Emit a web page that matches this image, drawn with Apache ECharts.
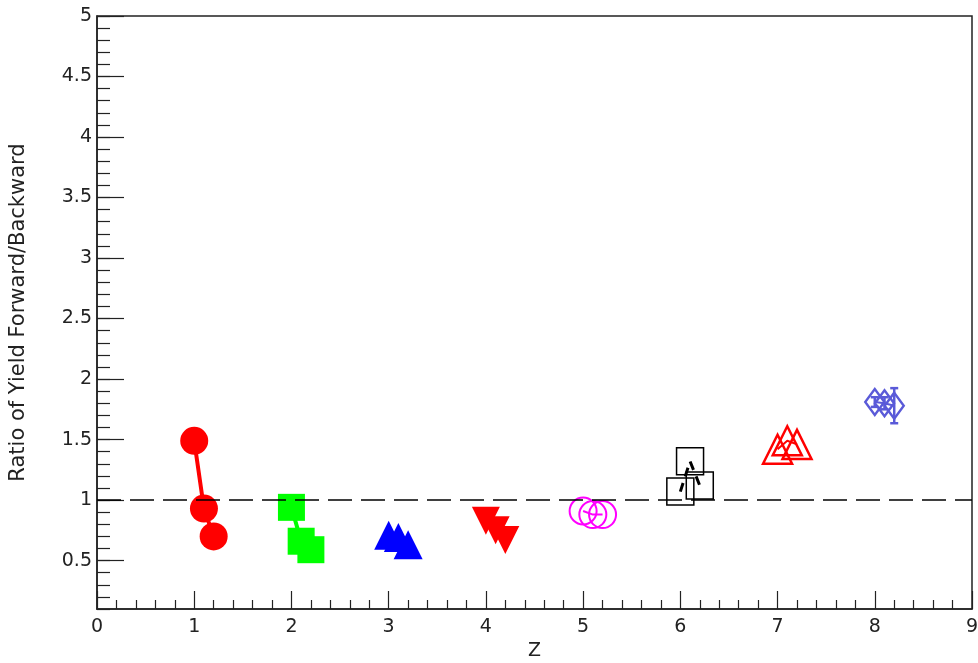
<!DOCTYPE html>
<html>
<head>
<meta charset="utf-8">
<script src="https://cdn.jsdelivr.net/npm/echarts@6/dist/echarts.min.js"></script>
<style>html,body{margin:0;padding:0;background:#fff}#c{width:978px;height:663px}</style>
</head>
<body>
<div id="c"></div>
<script>
// ---- data ----
const s1Z = [1.0, 1.1, 1.2], s1R = [1.49, 0.93, 0.70];
const s2Z = [2.0, 2.1, 2.2], s2R = [0.94, 0.66, 0.59];
const s3Z = [3.0, 3.1, 3.2], s3R = [0.71, 0.69, 0.63];
const s4Z = [4.0, 4.1, 4.2], s4R = [0.83, 0.75, 0.67];
const s5Z = [5.0, 5.1, 5.2], s5R = [0.91, 0.88, 0.88];
const s6Z = [6.0, 6.1, 6.2], s6R = [1.07, 1.32, 1.12];
const s7Z = [7.0, 7.1, 7.2], s7R = [1.42, 1.49, 1.46];
const s8Z = [8.0, 8.1, 8.2], s8R = [1.81, 1.80, 1.78];
const s8Err = [0.04, 0.05, 0.145];
const refValue = 1;
const xMin = 0, xMax = 9;
const yMin = 0.1, yMax = 5;
const yMajorTicks = [0.5, 1, 1.5, 2, 2.5, 3, 3.5, 4, 4.5, 5];

const pair = (zs, rs) => zs.map((z, i) => [z, rs[i]]);
const FONT = 'DejaVu Sans';
const GRID = {left: 97, top: 16, right: 6, bottom: 54, outerBoundsMode: 'none', containLabel: false};

function scatterLine(name, zs, rs, opts) {
  return Object.assign({
    name, type: 'line', data: pair(zs, rs), xAxisIndex: 0, yAxisIndex: 0,
    showSymbol: true, showAllSymbol: true, animation: false, z: 3
  }, opts);
}

const option = {
  animation: false,
  backgroundColor: '#fff',
  grid: [
    Object.assign({show: true, borderColor: '#222', borderWidth: 1.5, backgroundColor: 'transparent'}, GRID),
    Object.assign({show: false}, GRID)
  ],
  xAxis: [
    {
      type: 'value', gridIndex: 0, min: xMin, max: xMax, interval: 1,
      name: 'Z', nameLocation: 'middle', nameGap: 33,
      nameTextStyle: {fontFamily: FONT, fontSize: 19, color: '#222'},
      axisLine: {show: true, onZero: false, lineStyle: {color: '#222', width: 1.5}},
      axisTick: {show: true, inside: true, length: 18, lineStyle: {color: '#222', width: 1.2}},
      minorTick: {show: true, splitNumber: 5, length: 9, lineStyle: {color: '#222', width: 1.2}},
      axisLabel: {fontFamily: FONT, fontSize: 19, color: '#222', margin: 9},
      splitLine: {show: false}
    },
    {type: 'value', gridIndex: 1, min: xMin, max: xMax, show: false}
  ],
  yAxis: [
    {
      type: 'value', gridIndex: 0, min: yMin, max: yMax, interval: 0.1,
      name: 'Ratio of Yield Forward/Backward', nameLocation: 'middle', nameGap: 68,
      nameTextStyle: {fontFamily: FONT, fontSize: 21, color: '#222'},
      axisLine: {show: true, onZero: false, lineStyle: {color: '#222', width: 1.5}},
      axisTick: {show: true, inside: true, length: 13, lineStyle: {color: '#222', width: 1.2}},
      axisLabel: {show: false},
      splitLine: {show: false}
    },
    {
      type: 'value', gridIndex: 1, min: yMin, max: yMax,
      axisLine: {show: false},
      axisTick: {show: true, inside: true, length: 27, customValues: yMajorTicks, lineStyle: {color: '#222', width: 1.2}},
      axisLabel: {show: true, customValues: yMajorTicks, fontFamily: FONT, fontSize: 19, color: '#222', margin: 5},
      splitLine: {show: false}
    }
  ],
  series: [
    scatterLine('s1', s1Z, s1R, {
      symbol: 'circle', symbolSize: 28,
      itemStyle: {color: '#ff0000'}, lineStyle: {color: '#ff0000', width: 4},
      markLine: {
        silent: true, symbol: 'none', label: {show: false}, animation: false,
        lineStyle: {color: '#000', width: 1.5, type: [24, 9]},
        data: [[{coord: [xMin, refValue]}, {coord: [xMax, refValue]}]]
      }
    }),
    scatterLine('s2', s2Z, s2R, {
      symbol: 'rect', symbolSize: 27,
      itemStyle: {color: '#00ff00'}, lineStyle: {color: '#00ff00', width: 4}
    }),
    scatterLine('s3', s3Z, s3R, {
      symbol: 'triangle', symbolSize: 29,
      itemStyle: {color: '#0000ff'}, lineStyle: {color: '#0000ff', width: 3}
    }),
    scatterLine('s4', s4Z, s4R, {
      symbol: 'triangle', symbolRotate: 180, symbolSize: 28,
      itemStyle: {color: '#ff0000'}, lineStyle: {color: '#ff0000', width: 3}
    }),
    scatterLine('s5', s5Z, s5R, {
      symbol: 'circle', symbolSize: 27,
      itemStyle: {color: 'transparent', borderColor: '#ff00ff', borderWidth: 2},
      lineStyle: {color: '#ff00ff', width: 2}
    }),
    scatterLine('s6', s6Z, s6R, {
      symbol: 'rect', symbolSize: 27,
      itemStyle: {color: 'transparent', borderColor: '#000', borderWidth: 1.5},
      lineStyle: {color: '#000', width: 3, type: [9, 7]}
    }),
    scatterLine('s7', s7Z, s7R, {
      symbol: 'triangle', symbolSize: 29,
      itemStyle: {color: 'transparent', borderColor: '#ff0000', borderWidth: 2.5},
      lineStyle: {color: '#ff0000', width: 2}
    }),
    scatterLine('s8', s8Z, s8R, {
      symbol: 'diamond', symbolSize: [19, 26],
      itemStyle: {color: 'transparent', borderColor: '#5a5ad8', borderWidth: 2.5},
      lineStyle: {color: '#5a5ad8', width: 2}
    }),
    {
      name: 's8err', type: 'custom', xAxisIndex: 0, yAxisIndex: 0, z: 4,
      data: s8Z.map((z, i) => [z, s8R[i], s8Err[i]]),
      renderItem: function (params, api) {
        const x = api.value(0), y = api.value(1), e = api.value(2);
        const top = api.coord([x, y + e]), bot = api.coord([x, y - e]);
        const w = 4;
        const st = {stroke: '#5a5ad8', lineWidth: 2.5};
        return {type: 'group', children: [
          {type: 'line', shape: {x1: top[0], y1: top[1], x2: bot[0], y2: bot[1]}, style: st},
          {type: 'line', shape: {x1: top[0] - w, y1: top[1], x2: top[0] + w, y2: top[1]}, style: st},
          {type: 'line', shape: {x1: bot[0] - w, y1: bot[1], x2: bot[0] + w, y2: bot[1]}, style: st}
        ]};
      }
    }
  ]
};

const chart = echarts.init(document.getElementById('c'), null, {renderer: 'canvas'});
chart.setOption(option);
</script>
</body>
</html>
